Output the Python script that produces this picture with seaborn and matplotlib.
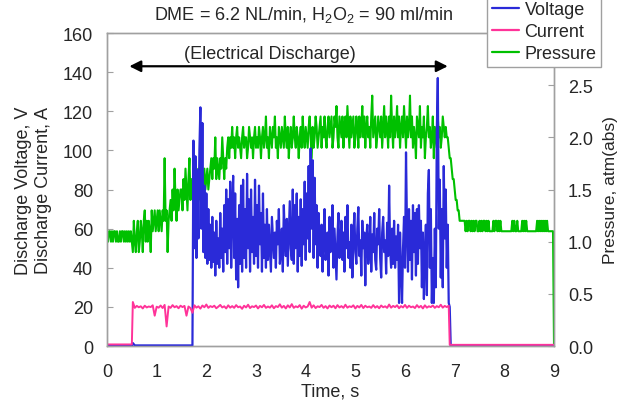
import numpy as np
import pandas as pd
import matplotlib
matplotlib.use('Agg')
import matplotlib.pyplot as plt
import seaborn as sns
from matplotlib.lines import Line2D

# pressure, atm(abs): one reading every 0.02 s from t = 0 to t = 9 s
pressure = [
    1.1, 1.0, 1.1, 1.1, 1.0, 1.1, 1.0, 1.1, 1.1, 1.0, 1.1, 1.0, 1.0, 1.1, 1.0, 1.1, 1.1, 1.0, 1.1, 1.0, 1.1, 1.0, 1.1, 1.0, 1.1,
    1.0, 0.9, 1.2, 1.0, 0.9, 1.1, 1.2, 0.9, 1.0, 1.2, 1.1, 0.9, 1.2, 1.3, 1.0, 1.2, 1.0, 1.2, 1.1, 0.9, 1.3, 1.1, 1.2, 1.3, 1.1,
    1.2, 1.3, 1.1, 1.3, 1.2, 1.1, 1.3, 1.2, 1.8, 1.2, 1.3, 0.9, 1.2, 1.3, 1.4, 1.2, 1.5, 1.3, 1.7, 1.4, 1.2, 1.5, 1.3, 1.4, 1.5,
    1.5, 1.3, 1.6, 1.4, 1.7, 1.5, 1.3, 1.6, 1.8, 1.4, 1.6, 1.5, 1.5, 1.7, 1.4, 1.6, 1.5, 1.7, 1.6, 1.4, 1.7, 1.5, 1.6, 1.7, 1.5,
    1.6, 1.7, 1.5, 1.6, 1.7, 1.8, 1.6, 1.8, 1.7, 2.0, 1.6, 1.8, 1.7, 1.6, 1.8, 1.7, 2.0, 1.8, 1.6, 1.8, 1.7, 1.9, 2.0, 1.8, 2.0,
    1.9, 2.1, 1.9, 2.0, 1.8, 2.0, 2.1, 1.9, 2.0, 1.9, 1.8, 2.0, 2.1, 1.9, 2.0, 2.0, 1.8, 1.9, 2.1, 2.0, 1.9, 2.0, 1.8, 2.0, 2.1,
    1.9, 2.0, 1.9, 2.1, 2.0, 1.8, 2.0, 2.1, 1.9, 2.0, 2.2, 1.9, 2.0, 1.8, 2.1, 2.0, 1.9, 2.1, 2.0, 2.2, 1.9, 2.0, 1.8, 2.1, 2.0,
    1.9, 2.1, 2.0, 1.9, 2.2, 2.0, 1.9, 2.1, 1.8, 2.0, 2.1, 1.9, 2.0, 2.2, 2.0, 1.9, 2.1, 2.0, 1.8, 2.0, 2.1, 1.9, 2.2, 2.0, 1.9,
    2.1, 2.0, 1.9, 2.1, 2.2, 2.0, 1.8, 2.1, 1.9, 2.0, 2.2, 2.1, 1.9, 2.0, 2.1, 2.2, 1.9, 2.1, 2.0, 2.2, 2.0, 1.9, 2.1, 2.2, 2.0,
    2.1, 2.2, 1.9, 2.0, 2.2, 2.1, 2.3, 2.0, 1.9, 2.2, 2.1, 2.0, 2.2, 1.9, 2.1, 2.2, 2.0, 2.3, 2.1, 1.9, 2.2, 2.0, 2.1, 2.2, 1.9,
    2.0, 2.2, 2.1, 1.9, 2.2, 2.0, 2.1, 2.3, 2.0, 2.2, 1.9, 2.1, 2.2, 2.0, 2.1, 1.9, 2.2, 2.4, 2.0, 2.1, 2.2, 1.9, 2.0, 2.2, 2.1,
    2.0, 2.2, 1.9, 2.1, 2.3, 2.0, 2.2, 2.1, 1.9, 2.2, 2.0, 2.4, 2.1, 1.9, 2.2, 2.0, 2.1, 2.3, 2.0, 2.2, 1.9, 2.1, 2.2, 2.0, 2.3,
    2.1, 1.9, 2.2, 2.0, 2.1, 2.4, 2.0, 2.2, 1.9, 2.1, 2.0, 1.8, 2.2, 2.1, 2.0, 2.3, 1.9, 2.1, 2.0, 2.2, 1.8, 2.0, 2.1, 2.3, 2.0,
    2.1, 1.9, 2.0, 2.2, 1.8, 2.1, 2.0, 1.9, 2.2, 2.0, 2.1, 1.9, 2.0, 2.2, 2.1, 2.0, 2.1, 2.0, 2.0, 1.9, 1.8, 1.8, 1.7, 1.6, 1.6,
    1.5, 1.4, 1.4, 1.3, 1.3, 1.2, 1.2, 1.2, 1.2, 1.2, 1.2, 1.1, 1.2, 1.1, 1.2, 1.2, 1.1, 1.2, 1.1, 1.2, 1.1, 1.2, 1.2, 1.1, 1.1,
    1.2, 1.1, 1.2, 1.1, 1.2, 1.2, 1.1, 1.2, 1.1, 1.2, 1.1, 1.1, 1.1, 1.1, 1.2, 1.1, 1.2, 1.2, 1.1, 1.2, 1.1, 1.2, 1.1, 1.1, 1.1,
    1.1, 1.1, 1.1, 1.1, 1.1, 1.1, 1.1, 1.1, 1.2, 1.1, 1.2, 1.1, 1.1, 1.2, 1.1, 1.1, 1.1, 1.1, 1.2, 1.1, 1.2, 1.1, 1.2, 1.1, 1.1,
    1.1, 1.1, 1.1, 1.1, 1.1, 1.1, 1.1, 1.1, 1.2, 1.1, 1.2, 1.1, 1.2, 1.1, 1.2, 1.1, 1.2, 1.1, 1.2, 1.1, 1.1, 1.1, 1.1, 1.1, 1.1,
    0.0,
]

# discharge voltage, V: one reading every 0.02 s from t = 1.74 to t = 6.90 s
voltage = [
    105, 50, 97, 45, 90, 55, 100, 122, 60, 114, 48, 82, 45, 78, 42, 70, 44, 62, 40, 66, 43, 58, 36, 64, 42,
    55, 40, 68, 45, 60, 38, 72, 48, 80, 42, 75, 50, 84, 40, 70, 87, 45, 78, 34, 65, 30, 72, 42, 82, 38,
    85, 45, 70, 40, 88, 50, 75, 38, 80, 48, 66, 42, 85, 46, 72, 40, 82, 52, 68, 38, 78, 45, 62, 40, 70,
    44, 62, 50, 38, 66, 55, 45, 58, 40, 64, 52, 70, 42, 48, 60, 38, 72, 55, 46, 65, 41, 57, 74, 50, 44,
    80, 42, 72, 50, 78, 38, 66, 46, 75, 41, 70, 52, 84, 44, 78, 55, 92, 48, 101, 60, 95, 45, 86, 52, 72,
    40, 68, 52, 46, 62, 38, 55, 70, 44, 50, 58, 36, 66, 48, 54, 72, 40, 60, 47, 34, 56, 68, 45, 52, 64,
    44, 58, 38, 66, 50, 72, 45, 53, 40, 62, 35, 56, 68, 48, 42, 60, 71, 46, 54, 36, 64, 50, 58, 31, 55,
    62, 42, 50, 66, 38, 57, 48, 68, 44, 39, 60, 52, 70, 45, 35, 58, 66, 48, 54, 37, 63, 46, 82, 50, 40,
    60, 42, 64, 40, 56, 44, 62, 22, 58, 38, 22, 50, 66, 40, 99, 60, 38, 70, 44, 64, 34, 72, 48, 68, 36,
    70, 42, 72, 50, 64, 30, 58, 24, 48, 62, 26, 78, 90, 40, 70, 22, 45, 22, 60, 30, 110, 137, 60, 85, 35,
    70, 30, 92, 55, 80, 40, 62, 22, 20,
]

# discharge current, A: one reading every 0.04 s from t = 0.52 to t = 6.88 s
current = [
    22.5, 19.5, 20.5, 19.8, 20.3, 19.2, 20.6, 19.7, 20.2, 19.9, 20.8, 15.5, 20.1, 19.6, 20.7, 19.4, 21.0, 10.0, 20.2, 19.5, 20.9, 19.8, 20.4, 19.3, 20.6,
    19.9, 20.5, 15.5, 20.2, 19.4, 17.0, 20.8, 19.6, 20.3, 19.1, 20.7, 19.8, 21.2, 19.5, 20.4, 19.9, 20.6, 19.3, 20.1, 21.0, 19.7, 20.3, 19.2, 20.8, 19.6,
    20.4, 19.5, 20.9, 19.8, 20.2, 19.0, 20.6, 19.7, 21.1, 19.4, 20.3, 19.9, 20.7, 19.2, 20.5, 19.8, 21.0, 19.5, 20.2, 19.6, 20.8, 19.3, 20.4, 19.9, 21.3,
    19.6, 20.5, 19.2, 20.8, 19.7, 21.4, 19.5, 20.3, 19.8, 20.9, 19.1, 20.6, 19.7, 20.2, 22.5, 19.6, 20.8, 19.4, 20.3, 19.9, 21.0, 19.5, 20.4, 19.2, 20.7,
    19.8, 20.6, 19.3, 20.9, 19.7, 20.4, 19.5, 21.1, 19.6, 20.3, 19.9, 20.8, 19.2, 20.5, 19.7, 21.0, 19.4, 20.6, 19.8, 20.2, 19.5, 20.9, 19.6, 20.4, 19.3,
    20.7, 19.8, 20.3, 19.5, 21.2, 19.6, 20.5, 19.9, 20.8, 19.3, 20.4, 19.7, 21.0, 19.5, 20.6, 19.8, 20.2, 19.4, 20.9, 19.7, 20.5, 19.2, 20.8, 19.6, 20.3,
    19.9, 20.7, 19.5, 20.4, 19.8, 21.1, 19.6, 20.5, 19.9, 20.6,
]

# quiet stretches before and after the discharge
volt_idle_t = [0.0, 0.50, 0.52, 0.56, 1.72]
volt_idle = [0.0, 0.0, 1.5, 0.3, 0.3]
volt_after_t = [6.92, 9.0]
volt_after = [0.3, 0.3]
curr_idle_t = [0.0, 0.50]
curr_idle = [0.8, 0.8]
curr_after_t = [6.90, 9.0]
curr_after = [0.6, 0.6]

series_names = ['Voltage', 'Current', 'Pressure']
colors = ['#2a2ad8', '#ff3399', '#00c000']

t_p = np.round(np.arange(len(pressure)) * 0.02, 2)
t_v = np.concatenate([volt_idle_t, 1.74 + 0.02 * np.arange(len(voltage)), volt_after_t])
t_c = np.concatenate([curr_idle_t, 0.52 + 0.04 * np.arange(len(current)), curr_after_t])

df_p = pd.DataFrame({'t': t_p, 'p': pressure})
df_v = pd.DataFrame({'t': t_v, 'v': volt_idle + voltage + volt_after})
df_c = pd.DataFrame({'t': t_c, 'c': curr_idle + current + curr_after})

sns.set_style('white')
plt.rcParams['font.family'] = ['Liberation Sans', 'DejaVu Sans']

fig = plt.figure(figsize=(6.28, 4.02), dpi=100)
ax = fig.add_axes([0.1704, 0.1368, 0.7118, 0.7786])
ax2 = ax.twinx()
ax.set_zorder(ax2.get_zorder() + 1)
ax.patch.set_visible(False)

sns.lineplot(data=df_p, x='t', y='p', ax=ax2, color=colors[2], lw=1.5, sort=False, estimator=None)
sns.lineplot(data=df_v, x='t', y='v', ax=ax, color=colors[0], lw=1.6, sort=False, estimator=None)
sns.lineplot(data=df_c, x='t', y='c', ax=ax, color=colors[1], lw=1.4, sort=False, estimator=None)

ax.set_xlim(0, 9)
ax.set_ylim(0, 160)
ax2.set_ylim(0, 3.0)
ax.set_xticks(range(0, 10))
ax.set_yticks(range(0, 161, 20))
# the 3.0 label sits under the legend in the original, so stop at 2.5
p_ticks = [0.0, 0.5, 1.0, 1.5, 2.0, 2.5]
ax2.set_yticks(p_ticks)
ax2.set_yticklabels([f'{v:.1f}' for v in p_ticks])

grey = '#a0a0a0'
for a in (ax, ax2):
    for s in a.spines.values():
        s.set_color(grey)
        s.set_linewidth(1.0)
ax.tick_params(axis='both', direction='in', length=4, color=grey, labelsize=13)
ax.tick_params(axis='x', pad=12)
ax.tick_params(axis='y', pad=10)
ax2.tick_params(axis='y', direction='in', length=4, color=grey, labelsize=13, pad=10)

ax.set_xlabel('Time, s', fontsize=13, labelpad=2)
ax.set_ylabel('Discharge Voltage, V\nDischarge Current, A', fontsize=13, labelpad=8)
ax2.set_ylabel('Pressure, atm(abs)', fontsize=12.5, labelpad=7, rotation=90)

ax.annotate('', xy=(6.86, 143), xytext=(0.45, 143),
            arrowprops=dict(arrowstyle='<|-|>', color='black', lw=1.6, mutation_scale=17, shrinkA=0, shrinkB=0))
ax.text(3.27, 149.5, '(Electrical Discharge)', ha='center', va='center', fontsize=13)

fig.text(0.484, 0.963, r'DME = 6.2 NL/min, H$_\mathregular{2}$O$_\mathregular{2}$ = 90 ml/min',
         ha='center', va='center', fontsize=13)

handles = [Line2D([], [], color=c, lw=1.6) for c in colors]
fig.legend(handles, series_names, loc='upper right', bbox_to_anchor=(601 / 628, 1.006),
           frameon=True, fancybox=False, edgecolor=grey, framealpha=1, fontsize=13,
           handlelength=1.5, handletextpad=0.3, borderpad=0.25, labelspacing=0.28, borderaxespad=0)

fig.savefig('out.png', dpi=100)
